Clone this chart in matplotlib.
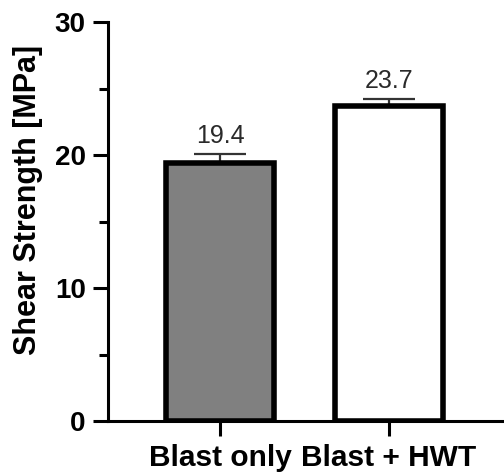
import matplotlib
matplotlib.use("Agg")
import matplotlib.pyplot as plt
from matplotlib.ticker import MultipleLocator

categories = ["Blast only", "Blast + HWT"]
values = [19.4, 23.7]
errors = [0.65, 0.5]
labels = ["19.4", "23.7"]
colors = ["#808080", "#ffffff"]

plt.rcParams['font.family'] = ['Liberation Sans', 'DejaVu Sans']

fig = plt.figure(figsize=(5.04, 4.72), dpi=100)
ax = fig.add_axes([108/504, 51/472, 1 - 108/504, (421-22)/472])

x = [0, 1]
ax.bar(x, values, width=0.635, color=colors, edgecolor="black", linewidth=4.0, zorder=2)
ax.errorbar(x, values, yerr=errors, fmt="none", ecolor="#333333", elinewidth=1.6,
            capsize=19, capthick=1.6, zorder=1)
for xi, v, e, t in zip(x, values, errors, labels):
    ax.text(xi, v + e + 0.85, t, ha="center", va="baseline", fontsize=18, color="#2a2a2a")

ax.set_xlim(-0.663, 1.68)
ax.set_ylim(0, 30)
ax.yaxis.set_major_locator(MultipleLocator(10))
ax.yaxis.set_minor_locator(MultipleLocator(5))
ax.set_xticks(x)
ax.set_xticklabels(categories, fontsize=21.5, fontweight="bold")
ax.tick_params(axis="y", which="major", length=11, width=2.2, labelsize=20, pad=5)
ax.tick_params(axis="y", which="minor", length=6.5, width=2.2)
ax.tick_params(axis="x", which="major", length=11, width=2.2, pad=5.5)
for lab in ax.get_yticklabels():
    lab.set_fontweight("bold")
ax.set_ylabel("Shear Strength [MPa]", fontsize=22, fontweight="bold", labelpad=6)
ax.yaxis.set_label_coords(-0.165, 0.555)
ax.spines["top"].set_visible(False)
ax.spines["right"].set_visible(False)
ax.spines["left"].set_linewidth(2.2)
ax.spines["bottom"].set_linewidth(2.2)

fig.savefig("out.png", dpi=100)
